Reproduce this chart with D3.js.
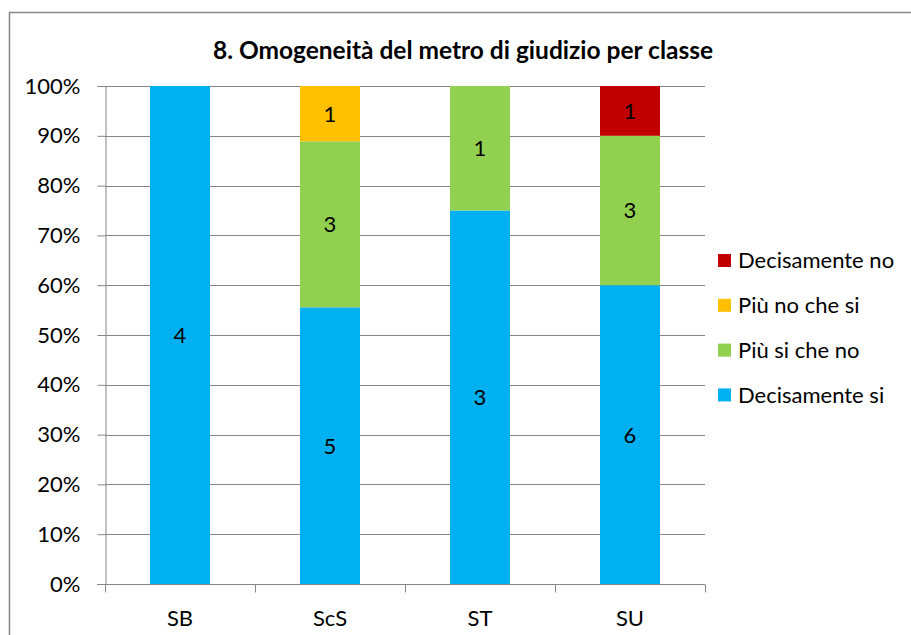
<!DOCTYPE html>
<html>
<head>
<meta charset="utf-8">
<script src="https://cdn.jsdelivr.net/npm/d3@7"></script>
<style>
  body { margin: 0; background: #fff; }
  svg { font-family: Lato, "Open Sans", sans-serif; }
</style>
</head>
<body>
<script>
const categories = ['SB', 'ScS', 'ST', 'SU']
const decisamenteSi = [4, 5, 3, 6]
const piuSiCheNo = [0, 3, 1, 3]
const piuNoCheSi = [0, 1, 0, 0]
const decisamenteNo = [0, 0, 0, 1]
const seriesNames = ['Decisamente si', 'Più si che no', 'Più no che si', 'Decisamente no']
const colors = ['#00b0f0', '#92d050', '#ffc000', '#c00000']
const yTicks = [0, 0.1, 0.2, 0.3, 0.4, 0.5, 0.6, 0.7, 0.8, 0.9, 1]

const w = 911
const h = 635
const fs = 22
const svg = d3.select('body').append('svg').attr('width', w).attr('height', h)

// chart frame (right and bottom edges are cut off)
svg.append('rect')
  .attr('x', 9.5).attr('y', 12.5)
  .attr('width', 920).attr('height', 640)
  .attr('fill', 'none').attr('stroke', '#868686').attr('stroke-width', 1.5)

svg.append('text')
  .attr('x', 463).attr('y', 59)
  .attr('text-anchor', 'middle')
  .attr('font-weight', 'bold')
  .attr('font-size', 24.5)
  .text('8. Omogeneità del metro di giudizio per classe')

const table = categories.map((c, i) => ({
  cat: c,
  'Decisamente si': decisamenteSi[i],
  'Più si che no': piuSiCheNo[i],
  'Più no che si': piuNoCheSi[i],
  'Decisamente no': decisamenteNo[i]
}))

const stacked = d3.stack().keys(seriesNames).offset(d3.stackOffsetExpand)(table)

const xScale = d3.scaleBand().domain(categories).range([105, 705]).paddingInner(0.6).paddingOuter(0.3)
const xBounds = d3.scaleLinear().domain([0, 4]).range([105, 705])
const yScale = d3.scaleLinear().domain([0, 1]).range([584, 86])

// gridlines
svg.append('g').selectAll('line')
  .data(yTicks.slice(1))
  .enter().append('line')
  .attr('x1', 105).attr('x2', 705)
  .attr('y1', d => Math.round(yScale(d)) + 0.5)
  .attr('y2', d => Math.round(yScale(d)) + 0.5)
  .attr('stroke', '#868686')

const layers = svg.append('g').selectAll('g')
  .data(stacked)
  .enter().append('g')
  .attr('fill', (d, i) => colors[i])

layers.selectAll('rect')
  .data(d => d.map(p => ({ p, key: d.key })))
  .enter().append('rect')
  .attr('x', d => xScale(d.p.data.cat))
  .attr('width', xScale.bandwidth())
  .attr('y', d => yScale(d.p[1]))
  .attr('height', d => yScale(d.p[0]) - yScale(d.p[1]))

layers.selectAll('text')
  .data(d => d.map(p => ({ p, key: d.key })).filter(o => o.p.data[o.key] > 0))
  .enter().append('text')
  .attr('x', d => xScale(d.p.data.cat) + xScale.bandwidth() / 2)
  .attr('y', d => (yScale(d.p[0]) + yScale(d.p[1])) / 2)
  .attr('dy', '0.36em')
  .attr('text-anchor', 'middle')
  .attr('font-size', fs)
  .attr('fill', '#000')
  .text(d => d.p.data[d.key])

// y axis
const yAxis = d3.axisLeft(yScale).tickValues(yTicks).tickFormat(d3.format('.0%')).tickSize(8).tickPadding(17)
const gy = svg.append('g').attr('transform', 'translate(105.5,0)').call(yAxis)
gy.selectAll('line').attr('stroke', '#868686')
gy.select('.domain').attr('stroke', '#868686')
gy.selectAll('text').attr('font-size', fs).attr('fill', '#000').attr('font-family', 'Lato, sans-serif')

// x axis
const gx = svg.append('g').attr('transform', 'translate(0,584.5)')
gx.append('line').attr('x1', 97).attr('x2', 705).attr('stroke', '#868686')
gx.selectAll('line.tk')
  .data(d3.range(5))
  .enter().append('line')
  .attr('class', 'tk')
  .attr('x1', d => Math.round(xBounds(d)) + 0.5)
  .attr('x2', d => Math.round(xBounds(d)) + 0.5)
  .attr('y1', 0).attr('y2', 8)
  .attr('stroke', '#868686')
gx.selectAll('text')
  .data(categories)
  .enter().append('text')
  .attr('x', d => xScale(d) + xScale.bandwidth() / 2)
  .attr('y', 41)
  .attr('text-anchor', 'middle')
  .attr('font-size', fs)
  .text(d => d)

// legend
const legendOrder = [3, 2, 1, 0]
const lg = svg.append('g').selectAll('g')
  .data(legendOrder)
  .enter().append('g')
  .attr('transform', (d, i) => `translate(718,${260.5 + i * 44.8})`)
lg.append('rect').attr('x', 0).attr('y', -6.5).attr('width', 13).attr('height', 13).attr('fill', d => colors[d])
lg.append('text').attr('x', 20).attr('dy', '0.36em').attr('font-size', fs).text(d => seriesNames[d])
</script>
</body>
</html>
